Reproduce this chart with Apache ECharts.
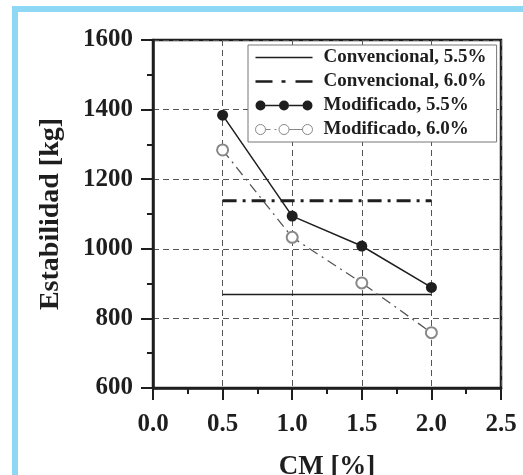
<!DOCTYPE html>
<html><head><meta charset="utf-8">
<script src="https://cdn.jsdelivr.net/npm/echarts@6/dist/echarts.min.js"></script>
<style>html,body{margin:0;padding:0;background:#fff}#c{width:523px;height:475px}</style>
</head><body><div id="c"></div>
<script>
// ---- data ----
const cmValues = [0.5, 1.0, 1.5, 2.0];
const modificado55 = [1384, 1094, 1008, 889];
const modificado60 = [1284, 1033, 902, 759];
const convRange = [0.5, 2.0];
const convencional55 = [869, 869];
const convencional60 = [1138, 1138];
const seriesNames = ['Convencional, 5.5%', 'Convencional, 6.0%', 'Modificado, 5.5%', 'Modificado, 6.0%'];
const xAxisTitle = 'CM [%]';
const yAxisTitle = 'Estabilidad [kg]';

const pair = (xs, ys) => xs.map((x, i) => [x, ys[i]]);
const FONT = 'Liberation Serif';
const INK = '#1e1e1e';

// legend icons (shapes only)
const circ = (cx) => `M${cx-5},5 A5,5 0 1,0 ${cx+5},5 A5,5 0 1,0 ${cx-5},5 Z`;
const iconConv55 = 'path://M0,0 L57,0 L57,1.4 L0,1.4 Z';
const iconConv60 = 'path://M0,0 L17,0 L17,2.6 L0,2.6 Z M26,0 L30,0 L30,2.6 L26,2.6 Z M40,0 L57,0 L57,2.6 L40,2.6 Z';
const iconMod55 = 'path://' + circ(5) + ' ' + circ(28.5) + ' ' + circ(52) +
  ' M10,4.3 L23.5,4.3 L23.5,5.7 L10,5.7 Z M33.5,4.3 L47,4.3 L47,5.7 L33.5,5.7 Z';
const iconMod60 = 'path://' + circ(5) + ' M10,5 L15,5 M19,5 L21,5 ' + circ(28.5) + ' M33.5,5 L47,5 ' + circ(52);

const chart = echarts.init(document.getElementById('c'), null, {renderer: 'canvas'});
chart.setOption({
  animation: false,
  backgroundColor: '#fff',
  textStyle: {fontFamily: FONT, fontWeight: 'bold', color: INK},
  graphic: [{
    type: 'rect', silent: true, z: 100,
    shape: {x: 15, y: 9, width: 700, height: 700},
    style: {fill: null, stroke: '#8fd8f5', lineWidth: 6}
  }],
  grid: {left: 153, top: 40, right: 22, bottom: 87, show: true, borderColor: INK, borderWidth: 2.5,
         outerBoundsMode: 'none', containLabel: false},
  legend: {
    orient: 'vertical', left: 248, top: 45,
    padding: [3, 10, 3, 7],
    backgroundColor: '#fff', borderColor: '#777', borderWidth: 1,
    itemWidth: 57, itemHeight: 14, itemGap: 5,
    z: 10,
    textStyle: {fontFamily: FONT, fontWeight: 'bold', fontSize: 19, lineHeight: 19, color: INK, padding: [0, 0, 0, 6]},
    data: [
      {name: seriesNames[0], icon: iconConv55, itemStyle: {color: INK, borderWidth: 0}},
      {name: seriesNames[1], icon: iconConv60, itemStyle: {color: INK, borderWidth: 0}},
      {name: seriesNames[2], icon: iconMod55, itemStyle: {color: INK, borderWidth: 0}},
      {name: seriesNames[3], icon: iconMod60, itemStyle: {color: '#fff', borderColor: '#888', borderWidth: 1}}
    ]
  },
  xAxis: {
    type: 'value', min: 0, max: 2.5, interval: 0.5,
    name: xAxisTitle, nameLocation: 'middle', nameGap: 66,
    nameTextStyle: {fontFamily: FONT, fontWeight: 'bold', fontSize: 27, color: INK},
    axisLine: {show: true, lineStyle: {color: INK, width: 2.5}},
    axisTick: {show: true, length: 12, lineStyle: {color: INK, width: 2}},
    minorTick: {show: true, splitNumber: 2, length: 6, lineStyle: {color: INK, width: 2}},
    axisLabel: {fontFamily: FONT, fontWeight: 'bold', fontSize: 25, color: INK, margin: 24,
                formatter: v => v.toFixed(1)},
    splitLine: {show: true, lineStyle: {color: '#555', width: 1, type: [6, 4]}}
  },
  yAxis: {
    type: 'value', min: 600, max: 1600, interval: 200,
    name: yAxisTitle, nameLocation: 'middle', nameGap: 88,
    nameTextStyle: {fontFamily: FONT, fontWeight: 'bold', fontSize: 28, color: INK},
    axisLine: {show: true, lineStyle: {color: INK, width: 2.5}},
    axisTick: {show: true, length: 12, lineStyle: {color: INK, width: 2}},
    minorTick: {show: true, splitNumber: 2, length: 6, lineStyle: {color: INK, width: 2}},
    axisLabel: {fontFamily: FONT, fontWeight: 'bold', fontSize: 25, color: INK, margin: 20,
                formatter: v => String(v)},
    splitLine: {show: true, lineStyle: {color: '#555', width: 1, type: [6, 4]}}
  },
  series: [
    {name: seriesNames[0], type: 'line', data: pair(convRange, convencional55), symbol: 'none',
     lineStyle: {color: INK, width: 1.5}, itemStyle: {color: INK}, z: 3},
    {name: seriesNames[1], type: 'line', data: pair(convRange, convencional60), symbol: 'none',
     lineStyle: {color: INK, width: 3, type: [14, 6, 3, 6]}, itemStyle: {color: INK}, z: 3},
    {name: seriesNames[2], type: 'line', data: pair(cmValues, modificado55), symbol: 'circle', symbolSize: 11,
     lineStyle: {color: INK, width: 1.5}, itemStyle: {color: INK}, z: 4},
    {name: seriesNames[3], type: 'line', data: pair(cmValues, modificado60), symbol: 'emptyCircle', symbolSize: 11,
     lineStyle: {color: '#555', width: 1.3, type: [10, 5, 2, 5]}, itemStyle: {color: '#888', borderWidth: 1.2}, z: 4}
  ]
});
</script>
</body></html>
